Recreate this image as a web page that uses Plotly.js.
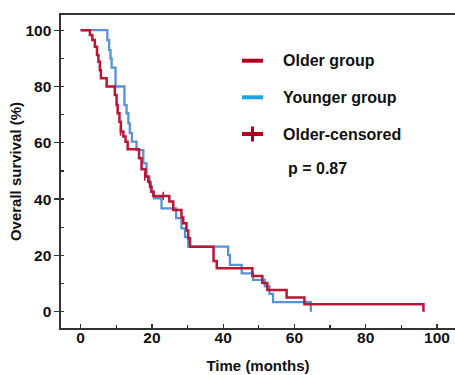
<!DOCTYPE html>
<html>
<head>
<meta charset="utf-8">
<script src="https://cdn.plot.ly/plotly-3.0.1.min.js"></script>
<style>html,body{margin:0;padding:0;background:#fff}#chart{width:455px;height:375px}</style>
</head>
<body>
<div id="chart"></div>
<script>
// Kaplan-Meier step data (time in months, survival in %)
const olderTime = [0, 2.6, 3.3, 4.0, 4.6, 5.0, 5.4, 5.7, 7.3, 9.6, 10.1, 10.4, 10.9, 11.3, 12.0, 12.6, 13.2, 16.4, 17.1, 18.2, 19.0, 19.5, 19.9, 20.4, 24.9, 26.0, 28.3, 28.8, 29.7, 30.2, 30.7, 37.3, 38.2, 48.2, 51.0, 52.4, 57.8, 62.8, 96.2];
const olderSurv = [100, 98.3, 96.5, 94.1, 91.2, 88.8, 85.8, 82.9, 80.0, 77.0, 73.4, 70.5, 67.5, 64.0, 62.2, 60.4, 57.7, 54.5, 50.6, 48.0, 46.2, 44.4, 42.6, 41.1, 39.1, 36.1, 33.5, 31.4, 28.8, 26.1, 23.1, 18.0, 15.4, 12.7, 10.2, 7.7, 5.0, 2.6, 0];

const youngerTime = [0, 7.5, 8.0, 8.4, 8.7, 9.8, 12.3, 12.9, 13.4, 13.8, 14.4, 15.7, 17.6, 18.5, 19.3, 19.7, 20.6, 22.7, 26.8, 28.3, 29.3, 30.2, 41.4, 41.9, 45.2, 48.4, 51.7, 53.0, 54.0, 64.6];
const youngerSurv = [100, 96.5, 92.9, 90.0, 86.7, 80.0, 73.4, 70.5, 66.9, 63.4, 60.4, 57.4, 52.7, 48.0, 45.6, 42.6, 40.3, 36.7, 33.2, 29.6, 26.5, 23.1, 20.1, 16.6, 13.6, 11.3, 9.0, 6.3, 3.4, 0];

const censorTime = [11.2, 18.0, 23.2];
const censorSurv = [64.0, 48.0, 41.1];

const seriesNames = ["Older group", "Younger group", "Older-censored"];
const pValueText = "p = 0.87";
const xTickVals = [0, 20, 40, 60, 80, 100];
const yTickVals = [0, 20, 40, 60, 80, 100];

const RED = "#BE1436", BLUE = "#5592D6";
const FONT = "Arial, 'Liberation Sans', sans-serif";

const traces = [
  {x: youngerTime, y: youngerSurv, name: seriesNames[1], mode: "lines",
   line: {shape: "hv", color: BLUE, width: 2.3}, showlegend: false, hoverinfo: "skip"},
  {x: olderTime, y: olderSurv, name: seriesNames[0], mode: "lines",
   line: {shape: "hv", color: RED, width: 2.5}, showlegend: false, hoverinfo: "skip"},
  {x: censorTime, y: censorSurv, name: seriesNames[2], mode: "markers",
   marker: {symbol: "line-ns", size: 6, line: {color: RED, width: 1.5}}, showlegend: false, hoverinfo: "skip"}
];

// plot area: left 61, right 455, top 15, bottom 328
const L = 61, R = 455, T = 15, B = 328;
const px = v => (v - L) / (R - L);
const py = v => (B - v) / (B - T);

const legRows = [60.7, 97.3, 134];
const legColors = ["#B0001E", "#1CA3E0", "#B0001E"];
const shapes = [];
legRows.forEach((r, i) => {
  shapes.push({type: "line", xref: "paper", yref: "paper", x0: px(242), x1: px(263), y0: py(r), y1: py(r),
               line: {color: legColors[i], width: 4}});
});
shapes.push({type: "line", xref: "paper", yref: "paper", x0: px(252.5), x1: px(252.5), y0: py(126.5), y1: py(141.5),
             line: {color: legColors[2], width: 3}});

const annotations = legRows.map((r, i) => ({
  xref: "paper", yref: "paper", x: px(281), y: py(r), xanchor: "left", yanchor: "middle",
  text: seriesNames[i], showarrow: false, font: {family: FONT, size: 16, weight: "bold", color: "#111"}
}));
annotations.push({xref: "paper", yref: "paper", x: px(285.5), y: py(168), xanchor: "left", yanchor: "middle",
  text: pValueText, showarrow: false, font: {family: FONT, size: 16, weight: "bold", color: "#111"}});

const layout = {
  width: 455, height: 375,
  margin: {l: L, r: 455 - R, t: T, b: 375 - B, pad: 0},
  paper_bgcolor: "#fff", plot_bgcolor: "#fff",
  showlegend: false,
  font: {family: FONT, color: "#111"},
  xaxis: {
    range: [-5.5, 105.05], tickvals: xTickVals, ticks: "inside", ticklen: 4, tickwidth: 1.3, tickcolor: "#333",
    minor: {dtick: 10, tick0: 0, ticks: "inside", ticklen: 3, tickwidth: 1.2, tickcolor: "#333", showgrid: false},
    showline: true, linecolor: "#333", linewidth: 1.6, mirror: true, showgrid: false, zeroline: false,
    ticklabelstandoff: -5,
    tickfont: {family: FONT, size: 15.5, weight: "bold", color: "#111"},
    title: {text: "Time (months)", font: {family: FONT, size: 15, weight: "bold", color: "#111"}, standoff: 15}
  },
  yaxis: {
    range: [-5.8, 105.4], tickvals: yTickVals, ticks: "outside", ticklen: 5, tickwidth: 1.3, tickcolor: "#333",
    minor: {dtick: 10, tick0: 0, ticks: "inside", ticklen: 3, tickwidth: 1.2, tickcolor: "#333", showgrid: false},
    showline: true, linecolor: "#333", linewidth: 1.6, mirror: false, showgrid: false, zeroline: false,
    tickfont: {family: FONT, size: 15.5, weight: "bold", color: "#111"},
    title: {text: "Overall survival (%)", font: {family: FONT, size: 15, weight: "bold", color: "#111"}, standoff: 0}
  },
  shapes: shapes,
  annotations: annotations
};

Plotly.newPlot("chart", traces, layout, {displayModeBar: false, staticPlot: true});
</script>
</body>
</html>
